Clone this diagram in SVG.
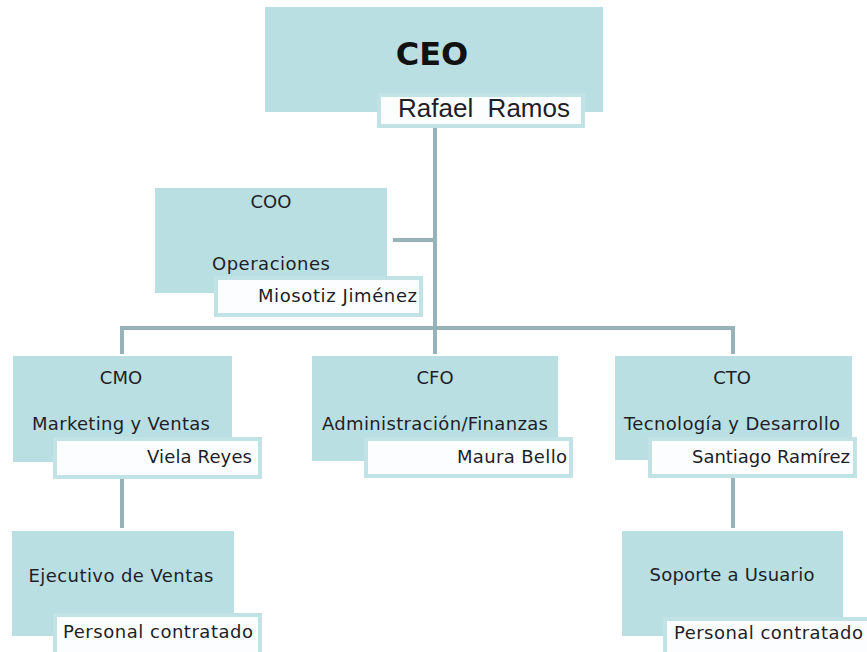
<svg xmlns="http://www.w3.org/2000/svg" width="867" height="652" viewBox="0 0 867 652">
<style>
.box{fill:#b9dfe3}
.name{fill:#fbfdfe;stroke:#c2e3e6;stroke-width:4}
.t{font-family:"DejaVu Sans",Verdana,sans-serif;font-size:18px;fill:#1e1e28}
.c{text-anchor:middle}
.r{text-anchor:end}
.conn{stroke:#95b3b8;stroke-width:4;fill:none}
</style>
<rect width="867" height="652" fill="#ffffff"/>
<g id="connectors">
<line class="conn" x1="435" y1="128" x2="435" y2="328"/>
<line class="conn" x1="393" y1="240" x2="435" y2="240"/>
<polyline class="conn" points="122,354 122,328 733,328 733,354"/>
<line class="conn" x1="435" y1="328" x2="435" y2="354"/>
<line class="conn" x1="122" y1="470" x2="122" y2="528"/>
<line class="conn" x1="733" y1="470" x2="733" y2="528"/>
</g>
<g id="ceo">
<rect class="box" x="265" y="7" width="338" height="105"/>
<text x="432" y="65" font-family="'DejaVu Sans',Verdana,sans-serif" font-weight="bold" font-size="32" fill="#111" text-anchor="middle">CEO</text>
<rect class="name" x="379" y="95" width="204" height="31"/>
<text x="398" y="117" font-family="'Liberation Sans',Arial,sans-serif" font-size="26" fill="#1e1e28" xml:space="preserve">Rafael  Ramos</text>
</g>
<g id="coo">
<rect class="box" x="155" y="188" width="232" height="105"/>
<text class="t c" x="271" y="208">COO</text>
<text class="t c" x="271" y="270" textLength="118">Operaciones</text>
<rect class="name" x="216" y="278" width="205" height="37"/>
<text class="t r" x="417" y="302" textLength="159">Miosotiz Jiménez</text>
</g>
<g id="cmo">
<rect class="box" x="13" y="356" width="219" height="106"/>
<text class="t c" x="121" y="384">CMO</text>
<text class="t c" x="121" y="430" textLength="178">Marketing y Ventas</text>
<rect class="name" x="55" y="439" width="205" height="38"/>
<text class="t r" x="252" y="463" textLength="105">Viela Reyes</text>
</g>
<g id="cfo">
<rect class="box" x="312" y="356" width="246" height="105"/>
<text class="t c" x="435" y="384">CFO</text>
<text class="t c" x="435" y="430" textLength="226">Administración/Finanzas</text>
<rect class="name" x="366" y="439" width="205" height="37"/>
<text class="t r" x="567" y="463" textLength="110">Maura Bello</text>
</g>
<g id="cto">
<rect class="box" x="615" y="356" width="237" height="104"/>
<text class="t c" x="732" y="384">CTO</text>
<text class="t c" x="732" y="430" textLength="216">Tecnología y Desarrollo</text>
<rect class="name" x="650" y="439" width="205" height="37"/>
<text class="t r" x="850" y="463" textLength="158">Santiago Ramírez</text>
</g>
<g id="ejecutivo">
<rect class="box" x="12" y="531" width="222" height="105"/>
<text class="t c" x="121" y="582" textLength="185">Ejecutivo de Ventas</text>
<rect class="name" x="55" y="615" width="205" height="40"/>
<text class="t" x="63" y="638" textLength="190">Personal contratado</text>
</g>
<g id="soporte">
<rect class="box" x="622" y="531" width="221" height="105"/>
<text class="t c" x="732" y="581" textLength="165">Soporte a Usuario</text>
<rect class="name" x="665" y="619" width="205" height="36"/>
<text class="t" x="674" y="639" textLength="189">Personal contratado</text>
</g>
</svg>
